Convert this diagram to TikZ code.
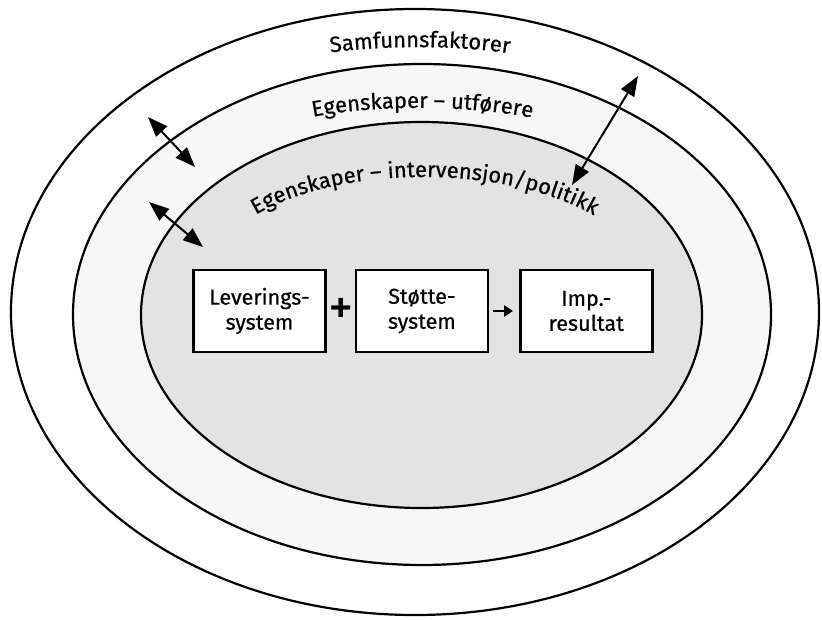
\documentclass[tikz,border=0pt]{standalone}
\usepackage{fontspec}
\setmainfont{Fira Sans}[FakeBold=0.5]
\usetikzlibrary{shapes.geometric,positioning,arrows.meta,decorations.text}
\newcommand{\ringfont}{\fontsize{22}{26}\selectfont}
\newcommand{\boksfont}{\fontsize{21.5}{25}\selectfont}
\begin{document}
\begin{tikzpicture}[x=1pt,y=-1pt]
   \tikzstyle{ring}=[draw, ellipse, line width=2.2pt, inner sep=0pt]
   \tikzstyle{boks}=[draw, fill=white, line width=2.4pt, minimum width=132pt, minimum height=82pt, inner sep=0pt, align=center, font=\boksfont]
   \tikzstyle{dobbel}=[{Triangle[length=20pt,width=15pt]}-{Triangle[length=20pt,width=15pt]}, line width=2pt]
   \tikzstyle{bue}=[decorate, decoration={text along path, text align=center}]

\useasboundingbox (0,0) rectangle (822,619);

\node[ring, minimum width=808pt, minimum height=606pt] (samfunn) at (415,312) {};
\node[ring, fill=black!3, minimum width=698pt, minimum height=501pt] (utforere) at (422,314.5) {};
\node[ring, fill=black!11, minimum width=561pt, minimum height=386pt] (intervensjon) at (421.5,315) {};

\path[bue, decoration={text={|\ringfont|Samfunnsfaktorer}}]
    (310,56) .. controls (370,44) and (470,44) .. (530,57);
\path[bue, decoration={text={|\ringfont|Egenskaper – utførere}}]
    (290,122) .. controls (360,103) and (480,103) .. (555,123);
\path[bue, decoration={text={|\ringfont|Egenskaper – intervensjon/politikk}}]
    (230,234) .. controls (310,158) and (535,158) .. (620,234);

\node[boks] (lev) at (259.5,311) {Leverings-\\system};
\node[boks, right=28pt of lev] (stotte) {Støtte-\\system};
\node[boks, right=30pt of stotte] (imp) {Imp.-\\resultat};

\path (lev) -- node[font=\fontsize{50}{50}\selectfont, inner sep=0pt] (pluss) {+} (stotte);
\draw[-{Triangle[length=9pt,width=11pt]}, line width=2.6pt, shorten <=4pt, shorten >=6pt] (stotte) -- (imp);

\coordinate (ut1) at (148,117);
\coordinate (ut2) at (195,167);
\coordinate (inn1) at (149,202);
\coordinate (inn2) at (203,247);
\coordinate (sam1) at (638,76);
\coordinate (sam2) at (572,185);
\draw[dobbel] (ut1) -- (ut2);
\draw[dobbel] (inn1) -- (inn2);
\draw[dobbel] (sam1) -- (sam2);

\end{tikzpicture}
\end{document}
